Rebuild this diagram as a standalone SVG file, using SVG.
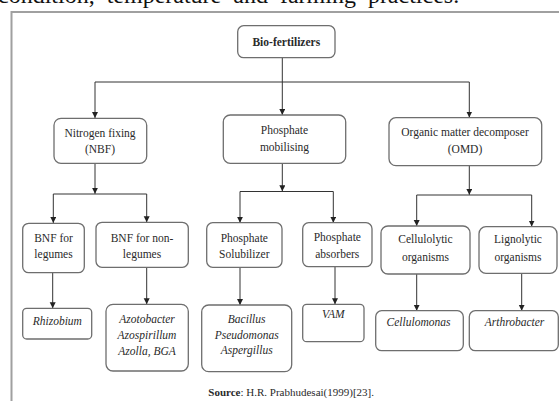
<svg xmlns="http://www.w3.org/2000/svg" width="559" height="401" viewBox="0 0 559 401">
<style>
  .box { fill: #ffffff; stroke: #6e6e6e; stroke-width: 1.3; }
  .t { font-family: "Liberation Serif", "Times New Roman", serif; font-size: 11.5px; fill: #2a2a2a; text-anchor: middle; }
  .it { font-style: italic; }
  .b { font-weight: bold; }
  .ln { stroke: #333333; stroke-width: 1; fill: none; }
  .ar { stroke: #333333; stroke-width: 1; fill: none; marker-end: url(#ah); }
</style>
<defs>
  <marker id="ah" markerUnits="userSpaceOnUse" markerWidth="7" markerHeight="7" refX="6" refY="3" orient="auto">
    <path d="M0,0 L6,3 L0,6 z" fill="#222222"/>
  </marker>
</defs>
<rect x="0" y="0" width="559" height="401" fill="#ffffff"/>
<text x="-2" y="3" font-family="'Liberation Serif', 'Times New Roman', serif" font-size="24" word-spacing="6" fill="#111111">condition, temperature and farming practices.</text>
<path d="M11.5,401 L11.5,12 L559,12" fill="none" stroke="#a0a0a0" stroke-width="2"/>

<g id="connectors">
  <path class="ar" d="M282.3,57.7 L282.3,115"/>
  <path class="ln" d="M95,82 L469.3,82"/>
  <path class="ar" d="M95,82 L95,118"/>
  <path class="ar" d="M469.3,82 L469.3,117.5"/>

  <path class="ar" d="M95,163.3 L95,193.8"/>
  <path class="ln" d="M53.3,194 L146.7,194"/>
  <path class="ar" d="M53.3,194 L53.3,223"/>
  <path class="ar" d="M146.7,194 L146.7,222.3"/>

  <path class="ar" d="M282.3,163.3 L282.3,191.3"/>
  <path class="ln" d="M240,191.5 L333.3,191.5"/>
  <path class="ar" d="M240,191.5 L240,222.7"/>
  <path class="ar" d="M333.3,191.5 L333.3,222.7"/>

  <path class="ar" d="M469.3,165.7 L469.3,194.8"/>
  <path class="ln" d="M416.7,195 L531.7,195"/>
  <path class="ar" d="M416.7,195 L416.7,226"/>
  <path class="ar" d="M531.7,195 L531.7,226.5"/>

  <path class="ar" d="M52.7,272.7 L52.7,308.3"/>
  <path class="ar" d="M146.7,267.3 L146.7,304.3"/>
  <path class="ar" d="M240,267.3 L240,305"/>
  <path class="ar" d="M335,266.7 L335,304.3"/>
  <path class="ar" d="M416.7,274 L416.7,310.7"/>
  <path class="ar" d="M521.7,273.3 L521.7,310.7"/>
</g>

<g id="biofertilizers">
  <rect class="box" x="237.7" y="25.7" width="97.3" height="32" rx="6"/>
  <text class="t b" x="286.3" y="45.5">Bio-fertilizers</text>
</g>
<g id="nbf">
  <rect class="box" x="54" y="118.3" width="92.7" height="45" rx="7"/>
  <text class="t" x="100" y="137">Nitrogen fixing</text>
  <text class="t" x="100" y="152.7">(NBF)</text>
</g>
<g id="mobilising">
  <rect class="box" x="223.3" y="115" width="122.4" height="48.3" rx="7"/>
  <text class="t" x="284.5" y="134">Phosphate</text>
  <text class="t" x="284.5" y="150.7">mobilising</text>
</g>
<g id="omd">
  <rect class="box" x="389" y="117.7" width="152.7" height="48" rx="7"/>
  <text class="t" x="465" y="135.7">Organic matter decomposer</text>
  <text class="t" x="465" y="153">(OMD)</text>
</g>

<g id="bnf-legumes">
  <rect class="box" x="22.7" y="223.3" width="61.6" height="49.4" rx="6"/>
  <text class="t" x="53.5" y="241.7">BNF for</text>
  <text class="t" x="53.5" y="257.7">legumes</text>
</g>
<g id="bnf-nonlegumes">
  <rect class="box" x="96" y="222.3" width="92.3" height="45" rx="6"/>
  <text class="t" x="142" y="241.7">BNF for non-</text>
  <text class="t" x="142" y="257.7">legumes</text>
</g>
<g id="solubilizer">
  <rect class="box" x="206.7" y="222.7" width="75.3" height="44.6" rx="6"/>
  <text class="t" x="244.3" y="241.7">Phosphate</text>
  <text class="t" x="244.3" y="257.7">Solubilizer</text>
</g>
<g id="absorbers">
  <rect class="box" x="302.7" y="222.7" width="69.3" height="44" rx="6"/>
  <text class="t" x="337.3" y="241">Phosphate</text>
  <text class="t" x="337.3" y="257.7">absorbers</text>
</g>
<g id="cellulolytic">
  <rect class="box" x="381" y="226" width="89" height="48" rx="7"/>
  <text class="t" x="425.5" y="243.3">Cellulolytic</text>
  <text class="t" x="425.5" y="261">organisms</text>
</g>
<g id="lignolytic">
  <rect class="box" x="479" y="226.7" width="78" height="46.6" rx="7"/>
  <text class="t" x="518" y="243.3">Lignolytic</text>
  <text class="t" x="518" y="261">organisms</text>
</g>

<g id="rhizobium">
  <rect class="box" x="22.7" y="308.3" width="69" height="30.7" rx="4"/>
  <text class="t it" x="57.3" y="325">Rhizobium</text>
</g>
<g id="azotobacter">
  <rect class="box" x="106" y="304.3" width="82.3" height="66.7" rx="7"/>
  <text class="t it" x="147" y="323.3">Azotobacter</text>
  <text class="t it" x="147" y="339.3">Azospirillum</text>
  <text class="t it" x="147" y="355">Azolla, BGA</text>
</g>
<g id="bacillus">
  <rect class="box" x="201.7" y="305" width="90" height="66.7" rx="7"/>
  <text class="t it" x="246.7" y="322.7">Bacillus</text>
  <text class="t it" x="246.7" y="339">Pseudomonas</text>
  <text class="t it" x="246.7" y="354.3">Aspergillus</text>
</g>
<g id="vam">
  <rect class="box" x="302.7" y="304.3" width="61.3" height="37.4" rx="4"/>
  <text class="t it" x="333.3" y="318.3">VAM</text>
</g>
<g id="cellulomonas">
  <rect class="box" x="375.7" y="310.7" width="87.6" height="40" rx="6"/>
  <text class="t it" x="418.5" y="325.7">Cellulomonas</text>
</g>
<g id="arthrobacter">
  <rect class="box" x="469.3" y="310.7" width="89" height="40" rx="6"/>
  <text class="t it" x="514.5" y="325.7">Arthrobacter</text>
</g>

<text x="208.3" y="395.7" font-family="'Liberation Serif', 'Times New Roman', serif" font-size="11" fill="#2a2a2a"><tspan font-weight="bold">Source</tspan>: H.R. Prabhudesai(1999)[23].</text>
</svg>
